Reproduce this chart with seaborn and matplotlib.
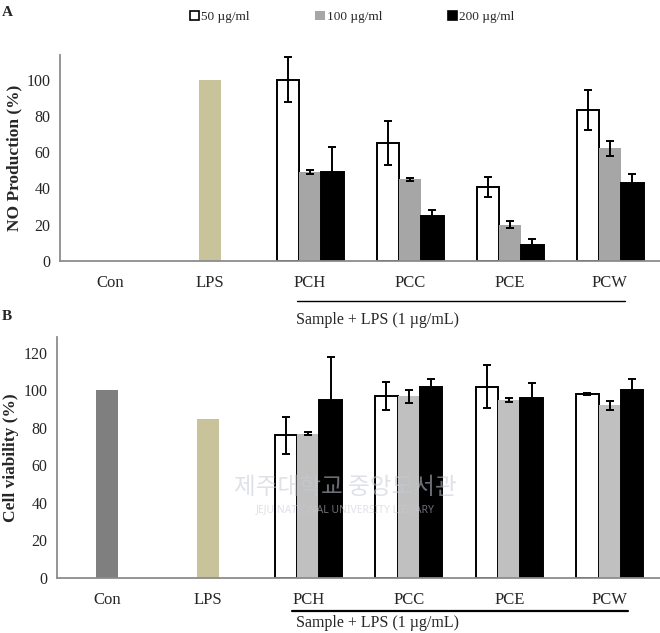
import numpy as np
import pandas as pd
import matplotlib
matplotlib.use('Agg')
import matplotlib.pyplot as plt
import seaborn as sns
from matplotlib.lines import Line2D
from matplotlib.patches import Patch

# ---- data ----
categories = ['Con', 'LPS', 'PCH', 'PCC', 'PCE', 'PCW']
controls = ['Con', 'LPS']
samples = ['PCH', 'PCC', 'PCE', 'PCW']
doses = ['50 µg/ml', '100 µg/ml', '200 µg/ml']

# A: NO production (%)
no_ctrl = [0, 100]
no_50 = [100, 65, 41, 83]
no_100 = [49, 45, 20, 62]
no_200 = [49, 25, 9, 43]
no_50_err = [12.5, 12, 5.5, 11]
no_100_err = [1, 1, 2, 4]
no_200_err = [14, 3, 3, 5]

# B: cell viability (%)
cv_ctrl = [100, 85]
cv_50 = [76, 97, 102, 98]
cv_100 = [77, 97, 95, 92]
cv_200 = [95, 102, 96, 100]
cv_50_err = [10, 7.5, 11.5, 0.5]
cv_100_err = [1, 3.5, 1, 2.5]
cv_200_err = [23, 4, 8, 6]

# ---- style ----
sns.set_style('white')
plt.rcParams['font.family'] = ['Liberation Serif', 'DejaVu Serif']

AXIS_GRAY = '#8c8c8c'


def long_frame(v50, v100, v200, e50, e100, e200):
    rows = []
    for dose, vals, errs in zip(doses, [v50, v100, v200], [e50, e100, e200]):
        for s, v, e in zip(samples, vals, errs):
            rows.append({'group': s, 'dose': dose, 'value': v, 'err': e})
    return pd.DataFrame(rows)


def draw_panel(ax, ctrl_vals, ctrl_colors, df, dose_colors, dose_edges, ylim, yticks, ylabel):
    df_c = pd.DataFrame({'group': controls, 'value': ctrl_vals})
    sns.barplot(data=df_c, x='group', y='value', hue='group', order=categories,
                palette=dict(zip(controls, ctrl_colors)), width=0.22, saturation=1,
                errorbar=None, legend=False, linewidth=0, ax=ax)
    sns.barplot(data=df, x='group', y='value', hue='dose', order=categories,
                hue_order=doses, palette=dose_colors, width=0.67, saturation=1,
                errorbar=None, legend=False, ax=ax)

    for cont, edge in zip(ax.containers[-3:], dose_edges):
        for p in cont.patches:
            p.set_edgecolor(edge)
            p.set_linewidth(1.4 if edge != 'none' else 0)

    # error bars on the sample bars
    for cont, dose in zip(ax.containers[-3:], doses):
        sub = df[df['dose'] == dose].set_index('group')
        for p in cont.patches:
            xc = p.get_x() + p.get_width() / 2
            g = categories[int(round(xc))]
            ax.errorbar(xc, p.get_height(), yerr=sub.loc[g, 'err'], fmt='none',
                        ecolor='black', elinewidth=1.4, capsize=3, capthick=1.4, zorder=5)

    ax.set_xlim(-0.5, 5.5)
    ax.set_ylim(*ylim)
    ax.set_yticks(yticks)
    ax.set_xticks(range(len(categories)))
    ax.set_xticklabels(categories, fontsize=12)
    ax.set_xticks(np.arange(-0.5, 6, 1), minor=True)
    ax.tick_params(axis='x', which='major', length=0, pad=10)
    ax.tick_params(axis='x', which='minor', length=5, color=AXIS_GRAY, direction='out')
    ax.tick_params(axis='y', length=4, color=AXIS_GRAY, direction='out', labelsize=11.5, pad=3)
    ax.set_xlabel('')
    ax.set_ylabel(ylabel, fontsize=12.5, fontweight='bold', labelpad=3)
    for side in ['top', 'right']:
        ax.spines[side].set_visible(False)
    for side in ['left', 'bottom']:
        ax.spines[side].set_color(AXIS_GRAY)
        ax.spines[side].set_linewidth(1.3)


fig = plt.figure(figsize=(6.6, 6.33), dpi=100)
ax_a = fig.add_axes([60 / 660, 1 - 261 / 633, 600 / 660, 206 / 633])
ax_b = fig.add_axes([57 / 660, 1 - 578 / 633, 603 / 660, 241 / 633])

df_a = long_frame(no_50, no_100, no_200, no_50_err, no_100_err, no_200_err)
df_b = long_frame(cv_50, cv_100, cv_200, cv_50_err, cv_100_err, cv_200_err)

draw_panel(ax_a, no_ctrl, ['#7f7f7f', '#c9c39c'], df_a,
           ['white', '#a6a6a6', 'black'], ['black', 'none', 'black'],
           (0, 113.5), range(0, 101, 20), 'NO Production (%)')
draw_panel(ax_b, cv_ctrl, ['#7f7f7f', '#c9c39c'], df_b,
           ['white', '#c0c0c0', 'black'], ['black', 'none', 'black'],
           (0, 128.5), range(0, 121, 20), 'Cell viability (%)')

# panel letters
fig.text(2 / 660, 1 - 12 / 633, 'A', fontsize=11, fontweight='bold', va='center')
fig.text(2 / 660, 1 - 316 / 633, 'B', fontsize=11, fontweight='bold', va='center')

# legend at the top
handles = [Patch(facecolor=c, edgecolor=e, linewidth=1.2 if e != 'none' else 0)
           for c, e in zip(['white', '#a6a6a6', 'black'], ['black', 'none', 'black'])]
fig.legend(handles, doses, loc='center', bbox_to_anchor=(352 / 660, 1 - 17 / 633),
           ncol=3, frameon=False, fontsize=9.5, handlelength=0.7, handleheight=0.7,
           handletextpad=0.15, columnspacing=5.0)

# "Sample + LPS" brackets
fig.add_artist(Line2D([297 / 660, 625 / 660], [1 - 301 / 633] * 2, color='black', lw=1))
fig.text(378 / 660, 1 - 320 / 633, 'Sample + LPS (1 µg/mL)', fontsize=11.5,
         ha='center', va='center')
fig.add_artist(Line2D([292 / 660, 628 / 660], [1 - 611 / 633] * 2, color='black', lw=1.6))
fig.text(378 / 660, 1 - 623 / 633, 'Sample + LPS (1 µg/mL)', fontsize=11.5,
         ha='center', va='center')

# faded library watermark
fig.text(345 / 660, 1 - 487 / 633, '제주대학교 중앙도서관', fontsize=17,
         family=['Noto Sans CJK KR', 'DejaVu Sans'], color='#c5cad4', alpha=0.55,
         ha='center', va='center')
fig.text(345 / 660, 1 - 510 / 633, 'JEJU NATIONAL UNIVERSITY LIBRARY', fontsize=7.5,
         family=['Noto Sans', 'DejaVu Sans'], color='#c5cad4', alpha=0.55,
         ha='center', va='center')

fig.savefig('out.png', dpi=100)
